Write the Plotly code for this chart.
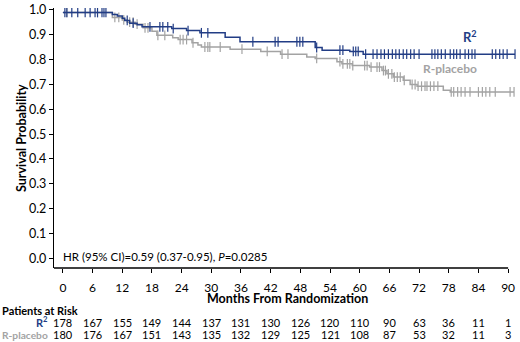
import numpy as np
import plotly.graph_objects as go

# ---------------- data ----------------
months_ticks = list(range(0, 91, 6))
y_ticks = [round(i * 0.1, 1) for i in range(11)]

r2_step_t = [0, 10.0, 11.0, 12.0, 12.5, 13.5, 15.0, 16.0, 22.0, 25.0, 27.7, 32.8, 35.8, 51.0, 52.4, 58.0, 60.7, 91.4]
r2_step_s = [0.99, 0.982, 0.976, 0.967, 0.958, 0.947, 0.941, 0.932, 0.925, 0.917, 0.908, 0.890, 0.872, 0.849, 0.838, 0.833, 0.822, 0.822]

pl_step_t = [0, 10.0, 12.0, 13.0, 14.6, 16.2, 18.0, 19.0, 22.2, 23.3, 26.1, 27.3, 28.0, 33.8, 40.0, 44.0, 49.3, 51.0, 55.4,
             56.4, 58.5, 62.0, 64.5, 65.5, 66.8, 68.8, 70.2, 71.6, 76.9, 78.3, 91.2]
pl_step_s = [0.99, 0.97, 0.96, 0.951, 0.943, 0.928, 0.914, 0.898, 0.888, 0.881, 0.868, 0.859, 0.851, 0.842, 0.833, 0.822,
             0.811, 0.805, 0.792, 0.783, 0.776, 0.770, 0.756, 0.743, 0.730, 0.717, 0.700, 0.693, 0.677, 0.670, 0.670]

r2_censor = [0.4, 0.8, 1.8, 3, 4.5, 5.5, 6.5, 7, 7.9, 8.3, 8.7, 13, 14.2, 17.6, 19.6, 20.2, 21.2, 22.3, 25.3, 28, 29.3,
             38.4, 42.9, 43.5, 47.3, 47.9, 48.5, 51.3, 56, 56.6, 58.7, 59.2, 59.7, 61.2, 62.7, 63.5, 64.3, 65, 65.8, 66.6,
             67.3, 68, 68.8, 69.5, 70.3, 71, 72, 74.6, 75.2, 75.8, 76.5, 77.3, 78.3, 79, 79.6, 80.3, 81.3, 82, 82.7,
             83.3, 86.8, 87.5, 88.3, 89, 89.8, 91.4]
pl_censor = [0.8, 10.5, 11.3, 12.3, 13.5, 14.2, 15, 16.6, 17.2, 19.2, 20.6, 23.7, 24.3, 25, 26.3, 28.7, 29.3, 29.7, 31.8,
             36.2, 41.3, 44.3, 45.5, 51.3, 56, 56.6, 57.5, 58, 58.6, 61, 61.5, 62.3, 63.5, 64, 64.8, 65.2, 65.8, 66.5,
             67, 67.6, 68.2, 69, 70.6, 71.2, 71.8, 72.5, 73.2, 73.6, 74.3, 75, 75.8, 78.5, 79, 79.8, 80.5, 81.3, 82.3,
             84, 84.8, 85.5, 86.3, 87.4, 90.4, 91.2]

risk_r2 = [178, 167, 155, 149, 144, 137, 131, 130, 126, 120, 110, 90, 63, 36, 11, 1]
risk_pl = [180, 176, 167, 151, 143, 135, 132, 129, 125, 121, 108, 87, 53, 32, 11, 3]

BLUE = "#223d85"
GREY = "#a3a3a3"
FONT = "Lato"

def surv_at(ts, ss, t):
    idx = np.searchsorted(np.array(ts), np.array(t), side="right") - 1
    return np.array(ss)[idx]

fig = go.Figure()
for ts, ss, cens, col, nm in [(pl_step_t, pl_step_s, pl_censor, GREY, "R-placebo"),
                              (r2_step_t, r2_step_s, r2_censor, BLUE, "R2")]:
    fig.add_trace(go.Scatter(x=ts, y=ss, mode="lines", line=dict(color=col, width=1.5, shape="hv"),
                             showlegend=False, hoverinfo="skip"))
    fig.add_trace(go.Scatter(x=cens, y=surv_at(ts, ss, cens), mode="markers",
                             marker=dict(symbol="line-ns", size=7, line=dict(color=col, width=1.2), color=col),
                             showlegend=False, hoverinfo="skip"))

# plot area geometry (pixels)
L, R, T, B = 54, 2, 3, 74
W, H = 520, 342
PW, PH = W - L - R, H - T - B

def px_x(px):
    return (px - L) / PW

def px_y(py):
    return (H - B - py) / PH

def note(x, y, text, size=12, color="black", xanchor="center", xref="paper", angle=0):
    return dict(x=x, y=y, xref=xref, yref="paper", text=text, showarrow=False, textangle=angle,
                xanchor=xanchor, yanchor="middle", font=dict(family=FONT, size=size, color=color))

ann = []
ann.append(note(px_x(470), px_y(32), "<b>R<sup>2</sup></b>", 13, BLUE))
ann.append(note(px_x(450), px_y(65), "<b>R-placebo</b>", 12, GREY))
ann.append(note(px_x(61), px_y(256), "HR (95% CI)=0.59 (0.37-0.95), <i>P</i>=0.0285", 11.5, xanchor="left"))
ann.append(note(px_x(287), px_y(299), "<b>Months From Randomization</b>", 12.5))
ann.append(note(px_x(21), 0.5, "<b>Survival Probability</b>", 12.5, angle=-90))
ann.append(note(px_x(0), px_y(311), "<b>Patients at Risk</b>", 11, xanchor="left"))
ann.append(note(px_x(50), px_y(323), "<b>R<sup>2</sup></b>", 11, BLUE, xanchor="right"))
ann.append(note(px_x(0), px_y(336), "<b>R-placebo</b>", 10.2, GREY, xanchor="left"))
for m, a, b in zip(months_ticks, risk_r2, risk_pl):
    ann.append(note(m, px_y(324), str(a), 11, xref="x"))
    ann.append(note(m, px_y(336), str(b), 11, xref="x"))

fig.update_layout(
    width=W, height=H, margin=dict(l=L, r=R, t=T, b=B),
    plot_bgcolor="white", paper_bgcolor="white",
    font=dict(family=FONT, size=12, color="black"),
    annotations=ann,
    shapes=[dict(type="line", xref="x", yref="paper", x0=-1.8, x1=90, y0=0, y1=0,
                 line=dict(color="black", width=1.3))],
    xaxis=dict(range=[-1.8, 92], tickvals=months_ticks, ticks="outside", ticklen=4, tickwidth=1.2,
               tickcolor="black", showline=False, showgrid=False, zeroline=False, ticklabelstandoff=5,
               tickfont=dict(family=FONT, size=12)),
    yaxis=dict(range=[-0.039, 1.008], tickvals=y_ticks, ticktext=[f"{v:.1f}" for v in y_ticks],
               ticks="outside", ticklen=4, tickwidth=1.2, tickcolor="black", showline=True,
               linecolor="black", linewidth=1.3, showgrid=False, zeroline=False, ticklabeloverflow="allow",
               tickfont=dict(family=FONT, size=12.5)),
)
fig.write_html("out.html", config={"displayModeBar": False},
               post_script="document.body.style.margin='0px';document.body.style.overflow='hidden';")
